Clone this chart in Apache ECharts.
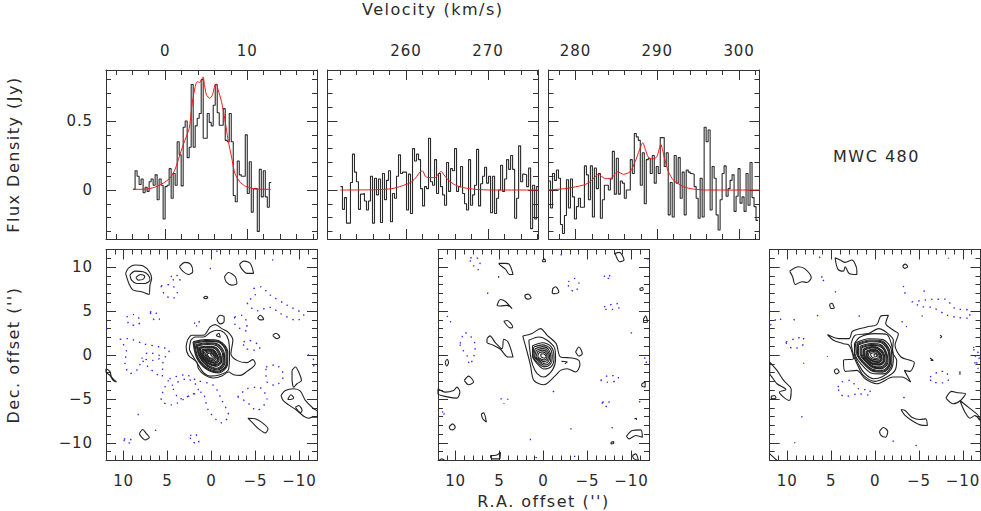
<!DOCTYPE html>
<html><head><meta charset="utf-8">
<style>html,body{margin:0;padding:0;background:#fff}#c{width:981px;height:511px}
#c svg text{letter-spacing:.9px}
#c svg text[style*="16px"]{letter-spacing:1.5px}
</style>
<script src="https://cdn.jsdelivr.net/npm/echarts@6/dist/echarts.min.js"></script>
</head><body><div id="c"></div>
<script>
var velStart1=-3.9, velStart2=252.02, velStart3=276.7, chanWidth=0.244;
var flux1=[.005,.14,.10,.04,.08,-.02,.02,-.01,.06,.08,.035,.11,-.07,.08,.035,-.21,.025,.035,.155,-.06,.12,.035,.35,.255,.03,.455,.50,.235,.31,.765,.31,.465,.52,.555,.80,.375,.375,.555,.49,.465,.615,.765,.56,.47,.47,.59,.36,.35,.555,.35,-.04,-.085,.21,.11,.10,.10,.40,-.025,.205,-.16,.01,.01,-.30,.15,-.05,.14,-.05,-.125,.055];
var flux2=[.025,-.14,-.055,-.24,-.24,.055,.26,.13,.06,-.14,-.03,-.025,-.08,-.145,-.08,.10,-.24,.085,-.035,.08,-.235,.12,-.07,.07,.14,-.23,-.025,-.06,.10,.255,.12,.13,.13,-.145,.115,-.17,.30,.21,.26,.22,.01,-.115,.025,.01,.375,.06,.035,.22,-.025,.12,.025,-.035,-.11,.20,-.01,.155,.14,.30,-.01,.025,.17,-.025,-.10,-.145,.22,-.11,-.035,.035,.295,-.115,.045,.10,.165,.05,.10,-.165,.10,-.17,-.06,0,.18,-.01,.08,.22,.15,.25,.15,-.205,-.06,.32,.06,.115,.11,.025,.16,-.28,.035,-.21,.025];
var flux3=[.065,-.13,.12,.07,.145,.085,-.25,-.315,-.185,.075,-.13,.08,-.05,-.21,-.12,-.06,-.125,-.125,.175,.11,-.07,.175,-.195,.16,.01,.12,-.205,-.07,.035,.035,0,.08,.28,-.03,.23,-.03,.065,.05,-.06,0,0,.22,.12,.41,.385,.36,.035,.27,-.10,.22,.23,.12,.25,.05,.17,.12,.38,.38,.17,.27,-.18,.055,-.195,.25,.05,.235,-.06,.13,-.18,.145,.13,.12,.115,.025,-.06,-.205,.085,-.195,.455,.35,.435,-.145,.17,.085,-.18,-.29,-.07,.12,.175,-.045,.01,.07,.11,-.155,-.045,.155,-.095,-.05,-.155,.12,-.11,.2,-.055,-.12,-.22];
var model1=[[-3.9,.005],[-2.68,.005],[-1.26,.02],[-.24,.05],[.57,.085],[1.18,.145],[1.79,.255],[2.4,.36],[2.93,.445],[3.25,.605],[3.58,.725],[3.9,.785],[4.23,.78],[4.43,.80],[4.63,.82],[4.8,.76],[5.04,.69],[5.45,.665],[5.77,.69],[6.06,.76],[6.22,.77],[6.46,.725],[6.87,.64],[7.28,.51],[7.68,.36],[8.09,.24],[8.5,.12],[9.1,.06],[9.7,.03],[10.3,.017],[11.1,.007],[12.85,.005]];
var model2=[[252,0],[256.26,.002],[258.29,.01],[259.51,.03],[260.53,.053],[261.14,.085],[261.75,.133],[262.03,.138],[262.36,.10],[262.76,.09],[263.58,.09],[263.98,.12],[264.31,.135],[264.63,.11],[265.2,.07],[266.02,.036],[267.03,.017],[268.46,.005],[270.49,0],[276.1,0]];
var model3=[[276.7,0],[278.94,.012],[280.98,.036],[281.79,.06],[282.4,.097],[282.81,.114],[283.22,.097],[283.71,.082],[284.44,.089],[285.13,.133],[285.87,.114],[286.68,.133],[287.29,.205],[287.82,.29],[288.23,.343],[288.51,.30],[288.92,.237],[289.45,.225],[289.94,.24],[290.43,.33],[290.84,.24],[291.36,.133],[291.98,.072],[293.2,.024],[294.42,.007],[296.05,0],[302.5,0]];

var map1Pos=[
[[9.77,9.28],[9.47,9.85],[8.71,10.23],[7.76,10.11],[7.07,9.47],[6.81,8.71],[7,7.95],[7.11,6.88],[7.95,7.19],[8.9,7.38],[9.35,8.02]],
[[9.28,9.09],[8.71,9.54],[7.76,9.47],[7.19,9.09],[7,8.52],[7.57,8.14],[8.52,8.14],[9.09,8.52]],
[[8.59,8.82],[8.06,9.16],[7.6,8.97],[7.76,8.63],[8.33,8.52]],
[[3.65,10.04],[3,10.53],[2.36,10.3],[2.13,9.47],[2.63,9.16],[3.27,9.54]],
[[-3.19,10.3],[-3.65,10.68],[-4.41,10.41],[-4.79,9.28],[-4.03,9.28],[-3.46,9.77]],
[[-1.48,8.9],[-1.94,9.39],[-2.7,8.9],[-2.89,8.14],[-2.32,7.95],[-1.67,8.33]],
[[.91,6.54],[.6,6.69],[.42,6.54],[.68,6.39]],
[[-.6,4.07],[-.99,4.52],[-1.44,4.33],[-1.44,3.84],[-1.06,3.54],[-.8,3.69]],
[[-5.25,4.22],[-5.55,4.52],[-5.93,4.07],[-5.55,3.99]],
[[-6.96,2.24],[-7.34,2.47],[-7.76,2.05],[-7.45,1.86]],
[[2.74,1.67],[2.24,2.24],[.91,2.24],[.15,3.19],[-.42,3.46],[-1.18,3],[-1.94,2.55],[-2.43,1.67],[-2.21,.15],[-2.89,-.61],[-4.03,-.87],[-4.71,-.53],[-4.98,-.99],[-4.03,-1.86],[-3.27,-2.32],[-2.51,-2.24],[-1.94,-1.94],[-1.18,-2.4],[-.23,-2.62],[.72,-2.32],[1.48,-1.56],[1.67,-.8],[2.62,-.04],[2.89,.91]],
[[-.53,2.24],[-.84,2.47],[-.99,2.02],[-.61,2.17]],
[[2.36,1.67],[1.86,2.05],[.91,2.05],[.15,2.55],[-.61,2.81],[-1.44,2.55],[-1.94,1.67],[-2.05,-.04],[-1.94,-1.63],[-.99,-2.24],[.15,-2.4],[.91,-2.02],[1.48,-1.18],[2.05,-.23],[2.51,.72]],
[[2.1,1.5],[.7,1.75],[-.9,1.6],[-1.85,.4],[-1.8,-1.2],[-.8,-2.05],[.6,-1.6],[1.7,-.3]],
[[2,1.42],[.65,1.65],[-.85,1.52],[-1.75,.38],[-1.72,-1.15],[-.75,-1.95],[.58,-1.5],[1.62,-.28]],
[[1.9,1.35],[.6,1.55],[-.8,1.45],[-1.65,.35],[-1.65,-1.1],[-.7,-1.85],[.55,-1.4],[1.55,-.25]],
[[1.75,1.2],[.55,1.4],[-.7,1.25],[-1.45,.25],[-1.5,-1],[-.7,-1.7],[.5,-1.25],[1.4,-.2]],
[[1.65,1.12],[.52,1.3],[-.65,1.15],[-1.35,.2],[-1.4,-.95],[-.65,-1.6],[.48,-1.18],[1.32,-.2]],
[[1.55,1.05],[.5,1.2],[-.6,1.05],[-1.25,.15],[-1.3,-.9],[-.6,-1.5],[.45,-1.1],[1.25,-.2]],
[[1.4,.9],[.5,1],[-.5,.85],[-1.05,.05],[-1.15,-.8],[-.5,-1.3],[.45,-.95],[1.15,-.2]],
[[1.32,.82],[.48,.92],[-.45,.78],[-.95,.02],[-1.08,-.75],[-.48,-1.2],[.42,-.9],[1.1,-.2]],
[[1.25,.75],[.45,.85],[-.4,.7],[-.85,0],[-1,-.7],[-.45,-1.1],[.4,-.85],[1.05,-.2]],
[[1.1,.6],[.4,.7],[-.3,.55],[-.7,-.05],[-.85,-.6],[-.4,-.95],[.35,-.75],[.95,-.2]],
[[1.02,.52],[.38,.62],[-.28,.48],[-.62,-.05],[-.78,-.55],[-.35,-.88],[.35,-.68],[.88,-.18]],
[[.95,.45],[.35,.55],[-.25,.4],[-.55,-.05],[-.7,-.5],[-.3,-.8],[.35,-.6],[.8,-.15]],
[[.8,.35],[.3,.45],[-.2,.3],[-.45,-.05],[-.55,-.4],[-.25,-.65],[.3,-.5],[.65,-.15]],
[[.65,.25],[.25,.35],[-.15,.2],[-.35,-.05],[-.45,-.3],[-.2,-.5],[.25,-.4],[.55,-.1]],
[[.5,.15],[.2,.2],[-.1,.1],[-.25,-.05],[-.35,-.2],[-.15,-.35],[.2,-.3],[.4,-.1]],
[[.1,.12],[-.1,.15],[-.25,-.05],[-.1,-.15],[.05,-.05]],
[[12,-1.56],[11.56,-1.86],[11.37,-2.51],[10.8,-3.08],[11.18,-2.89],[11.56,-2.32],[12,-1.94]],
[[8.21,-8.97],[7.83,-8.48],[7.38,-8.97],[7.07,-9.35],[7.57,-9.66],[7.95,-9.35]],
[[-4.14,-7.19],[-4.98,-7.26],[-5.93,-7.83],[-6.43,-8.4],[-6.12,-8.86],[-5.36,-8.4],[-4.79,-7.83]],
[[-9.16,-1.75],[-9.54,-1.37],[-10,-2.13],[-10.23,-2.89],[-9.73,-3.27],[-9.35,-3.65],[-9.16,-2.7]],
[[-7.91,-4.6],[-8.4,-4.03],[-9.35,-3.84],[-10.11,-4.11],[-10.68,-5.17],[-11.63,-6.12],[-12.05,-6.39],[-12.05,-7.07],[-11.44,-7.07],[-11.06,-7.19],[-10.49,-6.96],[-9.73,-6.31],[-8.78,-5.67],[-8.14,-5.17]],
[[-8.67,-5.06],[-9.05,-4.52],[-9.35,-4.9],[-8.97,-5.06]],
[[-9.54,-5.93],[-9.92,-5.74],[-10.3,-6.31],[-10.11,-6.58]]
];
var map1Neg=[
[[-4.79,7.57],[-5.55,7.76],[-6.69,6.81],[-8.59,5.67],[-10.49,4.52],[-9.73,3.95],[-7.83,4.71],[-6.69,5.42],[-5.17,5.03],[-4.03,6.05],[-4.98,6.81]],
[[5.74,7.87],[4.71,8.02],[3.88,7],[4.41,6.43],[5.29,6.81]],
[[4.64,8.9],[4.14,9.16],[3.5,8.59],[4.26,8.52]],
[[9.66,4.33],[8.9,4.6],[8.06,3.84],[8.52,3.38],[9.35,3.46]],
[[7,4.9],[6.6,4.98],[5.93,4.07],[6.43,3.95]],
[[1.98,3.57],[1.48,3.95],[1.37,3.38],[1.75,3.31]],
[[-2.62,4.33],[-3.46,4.52],[-4.03,3.57],[-4.03,2.7],[-3.27,3],[-2.7,3.38]],
[[-3.65,1.48],[-4.22,1.67],[-5.55,.91],[-4.98,.53],[-3.65,.91]],
[[10.42,1.79],[9.47,1.86],[7.76,1.29],[5.86,.91],[4.79,.53],[5.48,-.61],[5.67,-2.51],[7,-1.56],[7.95,-.61],[8.33,-1.56],[9.28,-2.13],[9.85,-.8],[9.66,.34]],
[[7.95,-.42],[7.19,.27],[5.67,-.23],[6.6,-.61]],
[[4.79,-2.7],[3,-2.24],[1.67,-2.89],[-.23,-3.46],[-1.18,-5.17],[-1.94,-6.88],[-1.18,-7.72],[.34,-6.31],[1.1,-4.22],[2.43,-4.6],[4.52,-5.67],[5.74,-5.17],[5.48,-4.03]],
[[4.52,-3.46],[2.81,-2.7],[1.48,-3.84],[3.57,-4.98]],
[[-2.97,-4.79],[-4.03,-3.84],[-5.36,-3.65],[-6.31,-4.98],[-5.17,-6.31],[-4.03,-5.36]],
[[-6.2,-1.37],[-7.26,-1.1],[-8.21,-2.32],[-7.26,-3.46],[-6.2,-2.89]],
[[-10.95,.04],[-11.63,-.61],[-11.63,-1.37]],
[[2.43,-9.16],[1.86,-8.97],[1.41,-10],[2.24,-9.92]],
[[9.96,-9.54],[9.28,-9.54],[9.01,-10],[9.85,-9.92]],
[[6.43,-8.59],[5.93,-8.4]],[[8.33,-6.69],[8.33,-7.07]],[[12,3],[11.37,3]],[[-.53,11.83],[-1.06,11.67]],[[-6.96,10.9],[-6.96,10.76]],[[.15,9.92],[.08,9.54]]
];
var map2Pos=[
[[2.36,2.17],[1.29,2.45],[.34,3],[-.42,2.24],[-1.44,1.29],[-1.94,-.23],[-3.27,-.34],[-4.03,-.61],[-4.14,-1.1],[-3.65,-1.94],[-2.7,-1.56],[-1.94,-1.75],[-1.37,-2.32],[-.04,-3.38],[1.1,-2.89],[1.48,-1.18],[1.86,.34]],
[[1.67,1.67],[.53,2.05],[-.42,1.67],[-1.29,.72],[-1.37,-.42],[-1.06,-1.63],[-.04,-2.51],[.72,-2.12],[1.22,-1.18],[1.48,-.04]],
[[1.25,1.05],[.1,1.4],[-.9,.9],[-1.2,-.3],[-.9,-1.3],[-.05,-1.6],[.7,-1],[1.25,-.1]],
[[1.1,.9],[.1,1.15],[-.75,.75],[-1,-.3],[-.75,-1.1],[-.05,-1.35],[.65,-.85],[1.2,-.15]],
[[.95,.7],[.1,.95],[-.6,.6],[-.85,-.3],[-.65,-.95],[0,-1.15],[.55,-.7],[1.1,-.15]],
[[.8,.55],[.1,.75],[-.5,.45],[-.7,-.3],[-.5,-.8],[0,-.95],[.5,-.6],[1,-.2]],
[[.65,.4],[.1,.55],[-.4,.3],[-.55,-.25],[-.4,-.65],[0,-.75],[.45,-.5],[.85,-.2]],
[[.5,.25],[.1,.35],[-.3,.15],[-.4,-.25],[-.3,-.5],[0,-.55],[.4,-.4],[.65,-.15]],
[[.3,.1],[.05,.15],[-.2,0],[-.3,-.2],[-.15,-.35],[.1,-.3],[.3,-.15]],
[[-1.06,7.57],[-1.37,7.76],[-1.75,7.19],[-1.37,6.96],[-.99,7.07]],
[[2.13,6.81],[1.75,6.92],[1.41,6.5],[1.75,6.35],[2.05,6.5]],
[[5.29,5.63],[4.9,6.31],[4.33,6.08],[3.57,5.27],[4.14,5.65],[4.9,5.57]],
[[5.1,10.42],[4.33,10.42],[3.88,10.3],[3.46,9.16],[3.88,9.16],[4.33,9.77],[4.9,10.19]],
[[4.52,3.84],[4.14,3.92],[3.5,3.19],[3.76,3.08]],
[[6.43,1.86],[6.1,2.17],[5.48,1.41],[4.71,.72],[4.52,1.79],[4.03,1.48],[3.46,-.23],[4.03,-.23],[4.9,.65],[5.86,1.18],[6.43,1.41]],
[[-3.65,.34],[-4.03,.91],[-4.41,.15],[-4.03,-.11]],
[[-2.05,-.72],[-2.7,-.8],[-2.43,-.99]],
[[11.18,-.8],[10.95,-.49],[10.8,-.87],[11.03,-1.25]],
[[9.01,-2.89],[8.52,-2.4],[7.95,-3.08],[8.52,-3.38]],
[[12,-3.84],[11.18,-4.22],[10.23,-4.03],[9.85,-3.65],[9.51,-4.22],[9.85,-4.9],[10.8,-4.79],[12,-4.41]],
[[7.07,-6.69],[6.81,-6.58],[6.5,-7.64],[6.92,-7.26]],
[[10.72,-8.14],[10.34,-7.83],[10.04,-8.21],[10.34,-8.52],[10.65,-8.4]],
[[6.05,-11.44],[5.29,-11.37],[4.9,-11.06],[4.98,-11.82],[5.86,-11.82]],
[[-9.43,-9.24],[-10.11,-8.59],[-11.06,-8.52],[-11.25,-9.35],[-10.49,-9.16],[-9.73,-9.54]],
[[-8.14,11.56],[-8.63,11.67],[-9.16,10.8],[-8.67,10.61]],
[[-11.37,4.07],[-11.63,4.45],[-11.82,3.76],[-11.44,3.69]],
[[.15,10.76],[-.15,10.91],[-.23,10.61],[.08,10.61]],
[[-10.95,7.57],[-11.25,7.68],[-11.33,7.38],[-11.03,7.34]],
[[-11.18,-3.27],[-11.56,-3.08],[-11.56,-3.65],[-11.18,-3.54]],
[[-7.68,-9.92],[-7.98,-9.85],[-7.98,-10.08],[-7.68,-10.11]],
[[-10.11,-11.44],[-10.49,-11.25],[-10.8,-12],[-10.3,-11.82]],
[[-10.34,-7.26],[-10.57,-7.19],[-10.57,-7.38]],
[[5.1,9],[5.1,8.78]],
[[11.9,-12],[11.56,-11.82],[11.25,-12]]
];
var map2Neg=[
[[8.33,11.06],[7.68,11.06],[7.19,10.68],[7.5,9.65],[7.95,10.15],[8.33,10.53]],
[[-1.94,11.44],[-2.43,11.06]],
[[-2.81,8.33],[-3.57,8.71],[-4.03,8.14],[-3.57,7.19],[-2.89,7.64]],
[[-6.88,8.9],[-7.26,9.2],[-7.76,8.71],[-7.07,8.71]],
[[-6.88,5.48],[-8.29,5.86],[-8.75,5.48],[-7.91,5.2],[-6.88,5.2]],
[[10.99,4.45],[10.61,3.95],[10.53,3.19]],
[[9.47,1.29],[8.97,2.55],[8.33,2.17],[7.76,1.1],[7.95,-.23],[8.4,-1.1],[8.71,-.04],[9.47,1.1]],
[[6.35,7.11],[6.35,6.5]],
[[4.9,-4.98],[4.03,-5.06],[4.53,-5.55]],
[[-6.5,-2.89],[-7.45,-2.32],[-8.52,-2.51],[-8.4,-2.89],[-7.26,-3.08]],
[[-6.69,-5.36],[-7.45,-5.29],[-7.34,-5.86],[-6.69,-5.74]],
[[-9.92,2.55],[-10.49,2.32]],
[[-11.44,-.34],[-11.82,-.42],[-11.63,-.99]],
[[-10.87,-5.36],[-11.18,-5.17]],
[[11.56,-6.5],[11.1,-6.43],[11.75,-7.26]],
[[-7.76,-8.21],[-8.21,-8.71]],
[[1.48,-9.54],[1.48,-10]],
[[.91,-11.63],[.53,-11.82]],
[[-3.46,-11.52],[-3.95,-11.52]],
[[-1.06,-4.22],[-1.22,-4.07]],
[[-3.08,-8.33],[-3.16,-8.48]],
[[-11.82,10.99],[-12,10.76]]
];
var map3Pos=[
[[5.42,2.32],[4.17,1.86],[2.95,1.86],[2.58,2.7],[.95,3.19],[-.19,3.46],[-.68,4.45],[-1.52,4.52],[-1.21,3.57],[-2.08,2.81],[-2.65,2.43],[-2.27,1.1],[-2.95,-.23],[-4.47,-.87],[-3.98,-1.86],[-3.33,-1.75],[-4.05,-3.08],[-3.03,-2.51],[-2.08,-2.51],[-.19,-3.27],[1.14,-2.7],[2.08,-1.75],[3.41,-1.86],[3.6,-.61],[2.46,-.42],[2.95,1.1],[3.6,1.29],[4.73,1.67]],
[[2.73,1.29],[2.27,2.24],[.76,2.43],[-.38,3],[-1.33,2.55],[-2.08,1.67],[-1.97,.34],[-2.46,-.61],[-2.27,-1.75],[-1.33,-2.51],[0,-3],[1.33,-2.32],[1.89,-1.37],[2.46,-.04]],
[[2.35,1.29],[1.7,2.05],[0,2.43],[-1.33,2.32],[-1.89,1.1],[-2.08,-.42],[-1.82,-1.63],[-.76,-2.51],[.19,-2.7],[1.14,-2.13],[1.82,-1.18],[2.35,.15]],
[[2.2,1.4],[.7,1.85],[-.9,1.75],[-1.85,.6],[-1.9,-1],[-1,-2.15],[.3,-2.1],[1.7,-.9],[2.3,.2]],
[[2.05,1.3],[.6,1.7],[-.8,1.6],[-1.65,.5],[-1.75,-1],[-.9,-1.95],[.3,-1.85],[1.5,-.8],[2.1,.2]],
[[1.98,1.22],[.58,1.6],[-.75,1.5],[-1.58,.45],[-1.68,-.95],[-.88,-1.85],[.28,-1.75],[1.42,-.78],[2,.18]],
[[1.9,1.15],[.55,1.5],[-.7,1.4],[-1.5,.4],[-1.6,-.9],[-.85,-1.75],[.25,-1.65],[1.35,-.75],[1.9,.15]],
[[1.7,1],[.5,1.3],[-.6,1.2],[-1.3,.3],[-1.45,-.85],[-.75,-1.55],[.25,-1.45],[1.2,-.65],[1.7,.15]],
[[1.6,.92],[.48,1.2],[-.55,1.1],[-1.22,.28],[-1.35,-.8],[-.7,-1.45],[.25,-1.35],[1.12,-.62],[1.6,.12]],
[[1.5,.85],[.45,1.1],[-.5,1],[-1.15,.25],[-1.25,-.75],[-.65,-1.35],[.25,-1.25],[1.05,-.6],[1.5,.1]],
[[1.3,.7],[.4,.95],[-.4,.8],[-1,.2],[-1.1,-.65],[-.55,-1.15],[.2,-1.1],[.95,-.55],[1.35,.05]],
[[1.22,.65],[.38,.88],[-.38,.72],[-.92,.15],[-1.02,-.62],[-.52,-1.08],[.2,-1.02],[.9,-.52],[1.28,.02]],
[[1.15,.6],[.35,.8],[-.35,.65],[-.85,.1],[-.95,-.6],[-.5,-1],[.2,-.95],[.85,-.5],[1.2,0]],
[[1,.45],[.3,.65],[-.3,.5],[-.7,.05],[-.8,-.5],[-.4,-.85],[.2,-.8],[.75,-.45],[1.05,-.05]],
[[.92,.4],[.28,.58],[-.28,.45],[-.62,.02],[-.72,-.45],[-.35,-.78],[.2,-.72],[.7,-.42],[.98,-.05]],
[[.85,.35],[.25,.5],[-.25,.4],[-.55,0],[-.65,-.4],[-.3,-.7],[.2,-.65],[.65,-.4],[.9,-.05]],
[[.7,.25],[.2,.4],[-.2,.3],[-.45,0],[-.5,-.3],[-.25,-.55],[.2,-.5],[.55,-.3],[.75,-.05]],
[[.55,.15],[.15,.25],[-.15,.15],[-.3,-.05],[-.35,-.25],[-.15,-.4],[.15,-.35],[.4,-.2]],
[[.1,.12],[-.12,.1],[-.2,-.1],[-.05,-.2],[.12,-.08]],
[[9.73,9.54],[8.71,10.04],[7.95,9.77],[7.27,8.78],[7.77,8.25],[8.33,8.33],[9.09,8.02],[9.39,8.9]],
[[4.55,11.06],[3.98,10.8],[3.41,10.53],[2.65,10.8],[2.08,9.66],[2.08,9.16],[2.95,9.28],[3.41,10.04],[3.6,9.54],[4.24,9.77]],
[[-3.14,10.15],[-3.41,10.34],[-3.71,10.04],[-3.33,9.85]],
[[5.19,5.74],[4.92,5.89],[4.66,5.36],[5,5.29]],
[[4.66,-1.75],[4.36,-1.56],[4.09,-1.94],[4.47,-2.13]],
[[12,-.8],[11.17,-1.75],[10.42,-2.89],[9.55,-3.92],[9.77,-5.17],[10.42,-4.79],[10.91,-4.22],[10.15,-3.92],[11.17,-3.27],[11.74,-2.51],[12,-2.13]],
[[11.82,-4.68],[11.44,-4.6],[11.29,-4.9],[11.82,-4.98]],
[[-2.95,-6.2],[-3.41,-6.31],[-4.17,-7.07],[-5.11,-7.34],[-5.76,-7.26],[-5.95,-8.02],[-5.11,-7.95],[-4.17,-7.45],[-3.41,-6.88]],
[[-.49,-8.71],[-.95,-8.25],[-1.44,-8.71],[-1.21,-9.35],[-.68,-9.16]],
[[-8.07,-4.9],[-8.71,-4.14],[-9.47,-4.3],[-10.3,-4.41],[-9.73,-5.17],[-8.9,-5.55]],
[[-9.66,-5.17],[-10.61,-5.93],[-11.74,-6.88],[-11.93,-7.45],[-11.36,-6.88],[-10.8,-7.19],[-10.23,-6.5]],
[[12,-11.25],[11.55,-11.64],[11.17,-12]],
[[-7.39,2.24],[-7.58,2.09],[-7.39,1.94]],
[[-6.25,-.34],[-6.63,-.61],[-6.33,-.61]],
[[-9.66,-1.86],[-9.66,-2.24]],
[[-8.33,11.06],[-8.41,10.98]],
[[-5.3,4.45],[-5.42,4.41]]
];
var map3Neg=[
[[-4.17,6.05],[-5.68,6.24],[-6.44,6.32],[-7.95,6.35],[-9.09,5.29],[-10.61,5.1],[-10.8,4.18],[-9.47,4.26],[-8.14,4.56],[-6.44,5.42],[-5.3,5.5]],
[[-3.22,7.87],[-3.49,6.81],[-3.86,6.62]],
[[-5.57,7.34],[-5.68,6.81]],
[[10.15,1.48],[9.09,1.86],[8.14,2.05],[8.14,1.29],[9.28,.72],[10.04,1.18]],
[[4.24,-3.65],[3.79,-3.08],[2.84,-2.89],[1.89,-3.84],[.57,-4.03],[.57,-4.6],[1.89,-4.41],[3.41,-4.71],[3.98,-4.41]],
[[-6.25,-2.51],[-7.2,-1.94],[-7.95,-1.86],[-8.41,-2.7],[-7.77,-3.16],[-6.44,-3.08]],
[[-11.17,.91],[-11.55,.53],[-11.93,-.23],[-11.36,-.8],[-11.74,-1.56]],
[[6.36,11.18],[6.06,10.8]],
[[6.14,8.9],[5.68,8.71],[6.06,8.33]],
[[4.55,7.26],[4.36,6.88]],
[[11.93,3.38],[10.98,4.22],[10.42,3.57]],
[[9.28,4.07],[8.9,3.76]],
[[6.63,4.52],[6.48,4.45]],
[[1.89,4.45],[1.52,4.33]],
[[-3.03,3.84],[-3.6,3.19]],
[[-3.22,-4.79],[-3.79,-5.17]],
[[8.41,-7.07],[8.03,-6.88]],
[[9.2,-9.92],[9.09,-10]],
[[-2,-9.73],[-2.2,-10]],
[[-4.62,-10.23],[-5,-10.68]],
[[8.14,-.87],[8.14,-1]],
[[5.42,-.1],[5.42,-.2]]
];
var specMajor=[[0,10],[260,270],[280,290,300]];
var specMinor=[[-6,-4,-2,2,4,6,8,12,14,16,18],[252,254,256,258,262,264,266,268,272,274,276],[278,282,284,286,288,292,294,296,298,302]];
var specRange=[[-7.2,18.5],[250.44,276.1],[276.7,302.5]];
var fluxRange=[-0.355,0.87], fluxMajor=[0,.5], fluxMinor=[-.3,-.2,-.1,.1,.2,.3,.4,.6,.7,.8];
var offMajor=[-10,-5,0,5,10], offMinor=[-11,-9,-8,-7,-6,-4,-3,-2,-1,1,2,3,4,6,7,8,9,11];
var titleVel='Velocity (km/s)',titleFlux='Flux Density (Jy)',titleDec="Dec. offset ('')",titleRA="R.A. offset ('')",source='MWC 480';

var FONT='DejaVu Sans',FS=15,TS=16,INK='#2a2a2a';
var grids=[
 {left:106,top:70,width:211,height:169},{left:327.5,top:70,width:210.5,height:169},{left:548.5,top:70,width:211,height:169},
 {left:106,top:249.5,width:211,height:211},{left:438,top:249.5,width:211,height:211},{left:769.7,top:249.5,width:210.8,height:211}
].map(function(g){g.outerBoundsMode='none';return g;});
var xAxes=[],yAxes=[],series=[];
function fmt(v){return String(v).replace('-','\u2212');}
function addAxes(list,g,range,major,minor,pos,inverse,labels,margin,extra){
  var base=list.length;
  pos.forEach(function(p,i){
    [[major,10,true],[minor,5,false]].forEach(function(k){
      var a={type:'value',gridIndex:g,position:p,min:range[0],max:range[1],inverse:inverse,
        splitLine:{show:false},minorTick:{show:false},minorSplitLine:{show:false},
        axisLine:{show:k[2],onZero:false,lineStyle:{color:'#333',width:1}},
        axisTick:{show:true,inside:true,length:k[1],customValues:k[0],lineStyle:{color:'#333',width:1}},
        axisLabel:{show:false}};
      if(i===0&&k[2]&&labels){
        a.axisLabel={show:true,customValues:labels,margin:margin,fontFamily:FONT,fontSize:FS,color:INK,formatter:fmt};
      }
      if(i===0&&k[2]&&extra){Object.assign(a,extra);}
      list.push(a);
    });
  });
  return base;
}
function axisName(text,gap,rot){return {name:text,nameLocation:'middle',nameGap:gap,nameRotate:rot,nameTextStyle:{fontFamily:FONT,fontSize:TS,color:INK}};}
var specs=[[flux1,model1,velStart1],[flux2,model2,velStart2],[flux3,model3,velStart3]];
specs.forEach(function(s,i){
  var xi=addAxes(xAxes,i,specRange[i],specMajor[i],specMinor[i],['top','bottom'],false,specMajor[i],12,i===1?axisName(titleVel,53,0):null);
  var yi=addAxes(yAxes,i,fluxRange,fluxMajor,fluxMinor,['left','right'],false,i===0?fluxMajor:null,13,i===0?axisName(titleFlux,85,90):null);
  var pts=s[0].map(function(f,j){return [s[2]+j*chanWidth,f];});
  pts.push([s[2]+s[0].length*chanWidth,s[0][s[0].length-1]]);
  series.push({type:'line',xAxisIndex:xi,yAxisIndex:yi,data:pts,step:'end',symbol:'none',silent:true,lineStyle:{color:'#2a2a2a',width:1.1}});
  series.push({type:'line',xAxisIndex:xi,yAxisIndex:yi,data:s[1],smooth:0.25,symbol:'none',silent:true,lineStyle:{color:'#f01818',width:1}});
});
var maps=[[map1Pos,map1Neg],[map2Pos,map2Neg],[map3Pos,map3Neg]];
maps.forEach(function(m,i){
  var g=i+3;
  var xi=addAxes(xAxes,g,[-12,12],offMajor,offMinor,['bottom','top'],true,offMajor,13,i===1?axisName(titleRA,33,0):null);
  var yi=addAxes(yAxes,g,[-12,12],offMajor,offMinor,['left','right'],false,i===0?offMajor:null,13,i===0?axisName(titleDec,85,90):null);
  function draw(paths,style,sm){
    paths.forEach(function(p){
      var d=p.length>=4?p.concat([p[0]]):p;
      series.push({type:'line',xAxisIndex:xi,yAxisIndex:yi,data:d,smooth:sm,symbol:'none',silent:true,lineStyle:style});
    });
  }
  draw(m[0],{color:'#222',width:1.1},0.3);
  draw(m[1],{color:'#2a2af5',width:1.3,type:[1.5,5]},0.3);
});
var chart=echarts.init(document.getElementById('c'),null,{renderer:'svg'});
chart.setOption({animation:false,backgroundColor:'#fff',tooltip:{show:false},legend:{show:false},grid:grids,xAxis:xAxes,yAxis:yAxes,series:series,
 graphic:[{type:'text',left:833,top:148,style:{text:source,fontFamily:FONT,fontSize:TS,fill:INK}}]});
</script></body></html>
